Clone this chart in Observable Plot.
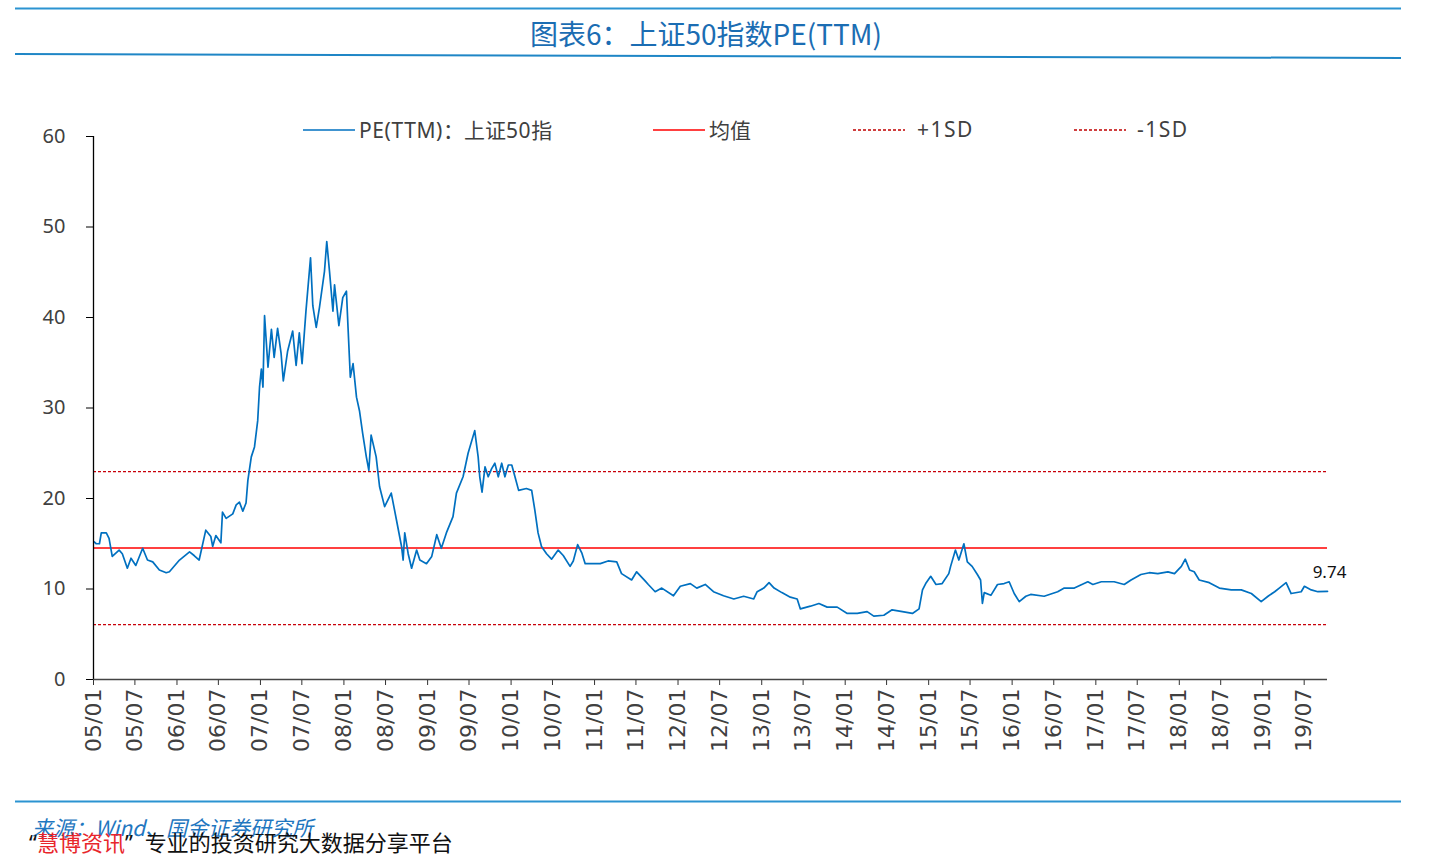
<!DOCTYPE html>
<html>
<head>
<meta charset="utf-8">
<script src="https://cdn.jsdelivr.net/npm/d3@7"></script>
<script src="https://cdn.jsdelivr.net/npm/@observablehq/plot@0.6"></script>
<style>
  html, body { margin: 0; padding: 0; background: #fff; }
  #page { position: relative; width: 1440px; height: 860px; overflow: hidden; font-family: "Noto Sans CJK SC", "Noto Sans", sans-serif; }
  #chart { position: absolute; left: 0; top: 0; }
  .abs { position: absolute; white-space: nowrap; }
  .legend-text { font-size: 21px; color: #404040; line-height: 1; }
  .lat { font-family: "Noto Sans", sans-serif; letter-spacing: 0.6px; }
</style>
</head>
<body>
<div id="page">
  <div id="chart"></div>
  <svg class="abs" style="left:0;top:0" width="1440" height="860">
    <line x1="15" y1="8.5" x2="1401" y2="8.5" stroke="#2B93D1" stroke-width="2"/>
    <line x1="15" y1="54" x2="1401" y2="58" stroke="#1F86C6" stroke-width="2"/>
    <line x1="15" y1="801.5" x2="1401" y2="801.5" stroke="#2B93D1" stroke-width="2"/>
    <!-- legend swatches -->
    <line x1="303" y1="130" x2="355" y2="130" stroke="#0070C0" stroke-width="1.5"/>
    <line x1="653" y1="130" x2="705" y2="130" stroke="#FF0000" stroke-width="1.5"/>
    <line x1="853" y1="130" x2="905" y2="130" stroke="#C00000" stroke-width="1.3" stroke-dasharray="3,2"/>
    <line x1="1074" y1="130" x2="1126" y2="130" stroke="#C00000" stroke-width="1.3" stroke-dasharray="3,2"/>
  </svg>
  <div class="abs" style="left:0;width:1412px;top:15px;text-align:center;font-size:28px;color:#1B6DB3;line-height:36px;">图表6：上证50指数PE(TTM)</div>
  <div class="abs legend-text" style="left:359px;top:119px;"><span class="lat">PE(TTM)</span>：上证<span class="lat">50</span>指</div>
  <div class="abs legend-text" style="left:709px;top:119px;">均值</div>
  <div class="abs legend-text lat" style="left:917px;top:119px;letter-spacing:1.5px;">+1SD</div>
  <div class="abs legend-text lat" style="left:1137px;top:119px;letter-spacing:1.5px;">-1SD</div>
  <div class="abs" style="left:32px;top:814px;font-size:21px;font-style:italic;color:#1F77C0;line-height:26px;">来源：Wind、国金证券研究所</div>
  <div class="abs" style="left:29px;top:828px;font-size:22px;color:#111;line-height:26px;"><span style="font-family:'Noto Sans'">“</span><span style="color:#E8262B">慧博资讯</span><span style="font-family:'Noto Sans'">”</span><span style="margin-left:12px">专业的投资研究大数据分享平台</span></div>
</div>
<script>
// ---- data ----
const dates = [
  "2005-01-04","2005-01-13","2005-01-27","2005-02-04","2005-02-26","2005-03-10","2005-03-24","2005-04-23","2005-05-07","2005-05-29",
  "2005-06-14","2005-07-05","2005-08-04","2005-08-25","2005-09-17","2005-10-16","2005-11-15","2005-11-29","2006-01-12","2006-02-25",
  "2006-03-17","2006-04-08","2006-05-07","2006-05-29","2006-06-06","2006-06-20","2006-07-12","2006-07-19","2006-08-04","2006-09-02",
  "2006-09-17","2006-10-01","2006-10-16","2006-10-30","2006-11-07","2006-11-22","2006-12-06","2006-12-20","2006-12-28","2007-01-05",
  "2007-01-12","2007-01-19","2007-02-03","2007-02-18","2007-03-02","2007-03-17","2007-04-01","2007-04-11","2007-04-30","2007-05-22",
  "2007-06-06","2007-06-20","2007-07-02","2007-07-19","2007-08-08","2007-08-18","2007-09-02","2007-09-16","2007-10-08","2007-10-18",
  "2007-10-30","2007-11-14","2007-11-21","2007-12-10","2007-12-27","2008-01-12","2008-01-19","2008-01-29","2008-02-10","2008-02-25",
  "2008-03-09","2008-03-23","2008-04-08","2008-04-19","2008-04-29","2008-05-21","2008-06-05","2008-06-27","2008-07-26","2008-08-18",
  "2008-09-09","2008-09-16","2008-09-23","2008-10-08","2008-10-23","2008-11-14","2008-11-28","2008-12-27","2009-01-19","2009-02-10",
  "2009-03-02","2009-03-24","2009-04-22","2009-05-07","2009-06-05","2009-06-27","2009-07-26","2009-08-10","2009-08-17","2009-08-27",
  "2009-09-09","2009-09-23","2009-10-08","2009-10-22","2009-11-06","2009-11-21","2009-12-05","2009-12-20","2010-01-04","2010-01-18",
  "2010-02-03","2010-03-09","2010-04-01","2010-04-15","2010-04-29","2010-05-14","2010-06-05","2010-06-27","2010-07-26","2010-08-17",
  "2010-09-16","2010-09-30","2010-10-19","2010-11-06","2010-11-21","2010-12-20","2011-01-26","2011-03-01","2011-04-08","2011-04-29",
  "2011-06-12","2011-07-04","2011-08-10","2011-08-24","2011-09-23","2011-10-22","2011-12-12","2012-01-11","2012-02-24","2012-03-23",
  "2012-04-29","2012-06-04","2012-07-18","2012-09-01","2012-10-14","2012-11-27","2012-12-12","2013-01-10","2013-02-02","2013-02-24",
  "2013-03-30","2013-05-06","2013-06-05","2013-06-19","2013-08-02","2013-09-08","2013-10-14","2013-11-27","2014-01-10","2014-02-23",
  "2014-04-07","2014-05-06","2014-06-19","2014-07-25","2014-09-08","2014-10-22","2014-11-20","2014-12-05","2014-12-19","2015-01-10",
  "2015-02-02","2015-03-01","2015-03-30","2015-04-07","2015-04-28","2015-05-13","2015-06-04","2015-06-19","2015-07-10","2015-08-02",
  "2015-08-16","2015-08-24","2015-09-01","2015-09-30","2015-10-29","2015-11-27","2015-12-19","2016-01-10","2016-02-01","2016-03-01",
  "2016-03-22","2016-05-20","2016-07-18","2016-08-16","2016-09-29","2016-11-27","2016-12-19","2017-01-25","2017-03-22","2017-05-05",
  "2017-06-04","2017-07-17","2017-08-23","2017-09-29","2017-11-12","2017-12-11","2018-01-10","2018-01-27","2018-02-15","2018-03-07",
  "2018-03-29","2018-05-12","2018-06-25","2018-08-16","2018-09-29","2018-11-12","2018-12-25","2019-01-24","2019-02-22","2019-03-14",
  "2019-04-13","2019-05-05","2019-06-18","2019-07-02","2019-08-01","2019-08-30","2019-10-11"
];
const pe = [
  15.2,15.0,15.0,16.2,16.2,15.6,13.6,14.3,13.9,12.3,
  13.4,12.6,14.5,13.2,13.0,12.1,11.8,11.9,13.2,14.1,
  13.7,13.2,16.5,15.8,14.7,15.9,15.1,18.5,17.8,18.3,
  19.3,19.6,18.6,19.5,22.0,24.6,25.7,28.6,32.3,34.3,
  32.3,40.2,34.5,38.7,35.6,38.8,36.1,33.0,36.3,38.5,
  34.7,38.3,34.9,40.7,46.6,41.3,38.9,41.1,45.1,48.4,
  45.1,40.7,43.6,39.1,42.2,42.9,38.9,33.4,34.9,31.2,
  29.7,27.2,24.6,23.1,27.0,24.6,21.3,19.1,20.6,17.6,
  14.7,13.2,16.2,13.9,12.3,14.3,13.2,12.8,13.6,16.0,
  14.5,16.2,18.0,20.6,22.4,25.0,27.5,24.6,22.4,20.7,
  23.5,22.4,23.3,23.9,22.4,23.9,22.4,23.7,23.7,22.4,
  20.9,21.1,20.9,18.7,16.2,14.7,13.9,13.3,14.3,13.7,
  12.5,13.1,14.9,14.0,12.8,12.8,12.8,13.1,13.0,11.7,
  11.0,11.9,10.9,10.5,9.7,10.1,9.25,10.3,10.6,10.1,
  10.5,9.7,9.25,8.9,9.2,8.9,9.7,10.1,10.7,10.1,
  9.6,9.1,8.9,7.8,8.1,8.4,8.0,8.0,7.3,7.3,
  7.5,7.0,7.1,7.7,7.5,7.3,7.8,9.9,10.6,11.4,
  10.5,10.6,11.7,12.5,14.3,13.2,15.0,13.0,12.5,11.6,
  11.0,8.4,9.6,9.3,10.5,10.6,10.8,9.5,8.6,9.2,
  9.4,9.2,9.7,10.1,10.1,10.8,10.5,10.8,10.8,10.5,
  11.0,11.6,11.8,11.7,11.9,11.7,12.5,13.3,12.1,11.9,
  11.0,10.7,10.1,9.9,9.9,9.5,8.6,9.2,9.7,10.1,
  10.7,9.5,9.7,10.3,9.9,9.7,9.74
];
const meanPE = 14.52;
const plus1SD = 22.97;
const minus1SD = 6.07;
const lastLabel = "9.74";
const yTicks = [0, 10, 20, 30, 40, 50, 60];
const xTickLabels = ["05/01","05/07","06/01","06/07","07/01","07/07","08/01","08/07","09/01","09/07","10/01","10/07","11/01","11/07","12/01","12/07","13/01","13/07","14/01","14/07","15/01","15/07","16/01","16/07","17/01","17/07","18/01","18/07","19/01","19/07"];

const parse = d3.utcParse("%Y-%m-%d");
const data = dates.map((d, i) => ({date: parse(d), pe: pe[i]}));
const xTicks = xTickLabels.map(s => d3.utcParse("%y/%m")(s));
const x0 = parse("2005-01-01");
const x1 = data[data.length - 1].date;
const last = data[data.length - 1];

const chart = Plot.plot({
  width: 1440,
  height: 860,
  marginLeft: 93,
  marginRight: 113,
  marginTop: 136,
  marginBottom: 181,
  style: {background: "transparent", color: "#404040", overflow: "visible"},
  x: {type: "utc", domain: [x0, x1], label: null},
  y: {domain: [0, 60], label: null},
  marks: [
    Plot.ruleY([meanPE], {stroke: "#FF0000", strokeWidth: 1.5}),
    Plot.ruleY([plus1SD, minus1SD], {stroke: "#C8000A", strokeWidth: 1.3, strokeDasharray: "3,2"}),
    Plot.line(data, {x: "date", y: "pe", stroke: "#0070C0", strokeWidth: 1.7}),
    Plot.axisY({ticks: yTicks, label: null, tickSize: 7, tickPadding: 21, fontSize: 20, fontFamily: "Noto Sans", stroke: "#000"}),
    Plot.axisX({ticks: xTicks, label: null, tickFormat: d3.utcFormat("%y/%m"), tickRotate: -90, tickSize: 6, tickPadding: 3, fontSize: 22, fontFamily: "DejaVu Sans", stroke: "#333"}),
    Plot.ruleX([x0], {y1: 0, y2: 60, stroke: "#000", strokeWidth: 1.3}),
    Plot.ruleY([0], {stroke: "#444", strokeWidth: 1.3}),
    Plot.text([last], {x: "date", y: "pe", text: () => lastLabel, dy: -19, dx: 2, fontSize: 17, fill: "#111", fontFamily: "Noto Sans"})
  ]
});
document.getElementById("chart").appendChild(chart);
</script>
</body>
</html>
